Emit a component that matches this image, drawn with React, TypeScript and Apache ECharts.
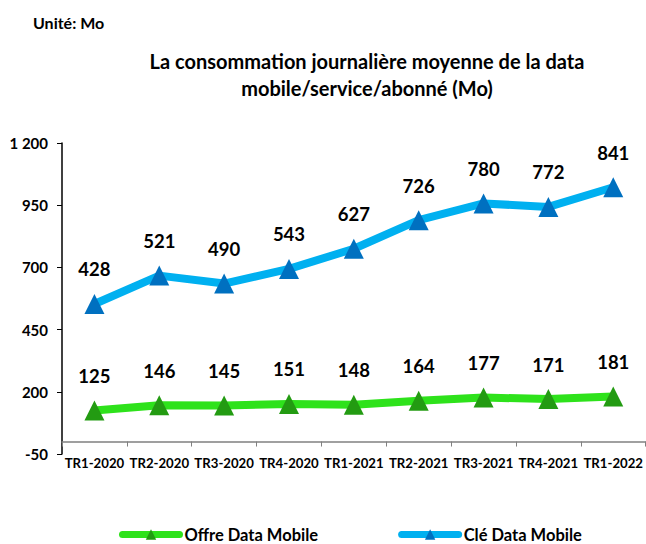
import React, { useEffect, useRef } from "react";
import * as echarts from "echarts";

const categories = ["TR1-2020", "TR2-2020", "TR3-2020", "TR4-2020", "TR1-2021", "TR2-2021", "TR3-2021", "TR4-2021", "TR1-2022"];
const offreData = [125, 146, 145, 151, 148, 164, 177, 171, 181];
const cleData = [428, 521, 490, 543, 627, 726, 780, 772, 841];
const yTicks = [-50, 200, 450, 700, 950, 1200];

const FONT = "Lato";

export default function App() {
  const ref = useRef<HTMLDivElement>(null);
  useEffect(() => {
    if (!ref.current) return;
    const chart = echarts.init(ref.current, null, { renderer: "svg" });
    const labelStyle = {
      show: true,
      position: "top" as const,
      distance: 15,
      fontFamily: FONT,
      fontWeight: "bold" as const,
      fontSize: 18.5,
      color: "#000",
    };
    chart.setOption({
      animation: false,
      backgroundColor: "#fff",
      title: [
        {
          text: "Unité: Mo",
          left: 28,
          top: 9,
          textStyle: { fontFamily: FONT, fontWeight: "bold", fontSize: 16, color: "#000" },
        },
        {
          text: "La consommation journalière moyenne de la data\nmobile/service/abonné (Mo)",
          left: 362,
          textAlign: "center",
          top: 42,
          textStyle: { fontFamily: FONT, fontWeight: "bold", fontSize: 20, color: "#000", lineHeight: 27 },
        },
      ],
      legend: {
        left: 119,
        top: 526,
        padding: 0,
        itemWidth: 57,
        itemHeight: 13,
        itemGap: 80,
        lineStyle: { width: 7, cap: "round" },
        textStyle: { fontFamily: FONT, fontWeight: "bold", fontSize: 16.5, lineHeight: 16, color: "#000" },
        data: ["Offre Data Mobile", "Clé Data Mobile"],
      },
      grid: { left: 62, top: 143, width: 584, height: 311, containLabel: false },
      xAxis: {
        type: "category",
        data: categories,
        boundaryGap: true,
        axisLine: { onZero: true, lineStyle: { color: "#808080", width: 1.5 } },
        axisTick: { show: true, length: 5, lineStyle: { color: "#808080" } },
        axisLabel: { fontFamily: FONT, fontWeight: "bold", fontSize: 13.2, color: "#000", margin: 2, interval: 0 },
      },
      yAxis: {
        type: "value",
        min: -50,
        max: 1200,
        interval: 250,
        splitLine: { show: false },
        axisLine: { show: true, lineStyle: { color: "#000", width: 1.5 } },
        axisTick: { show: true, length: 5, lineStyle: { color: "#000" } },
        axisLabel: {
          fontFamily: FONT,
          fontWeight: "bold",
          fontSize: 15,
          color: "#000",
          margin: 14,
          formatter: (v: number) => (yTicks.includes(v) ? String(v).replace(/\B(?=(\d{3})+(?!\d))/g, " ") : ""),
        },
      },
      series: [
        {
          name: "Offre Data Mobile",
          type: "line",
          stack: "total",
          data: offreData,
          symbol: "triangle",
          symbolSize: 20,
          lineStyle: { color: "#2ee21b", width: 8 },
          itemStyle: { color: "#239b12" },
          label: labelStyle,
        },
        {
          name: "Clé Data Mobile",
          type: "line",
          stack: "total",
          data: cleData,
          symbol: "triangle",
          symbolSize: 20,
          lineStyle: { color: "#00b0f0", width: 8 },
          itemStyle: { color: "#0070c0" },
          label: labelStyle,
        },
      ],
    });
    return () => chart.dispose();
  }, []);
  return <div ref={ref} style={{ position: "fixed", left: 0, top: 0, width: 646, height: 544 }} />;
}
